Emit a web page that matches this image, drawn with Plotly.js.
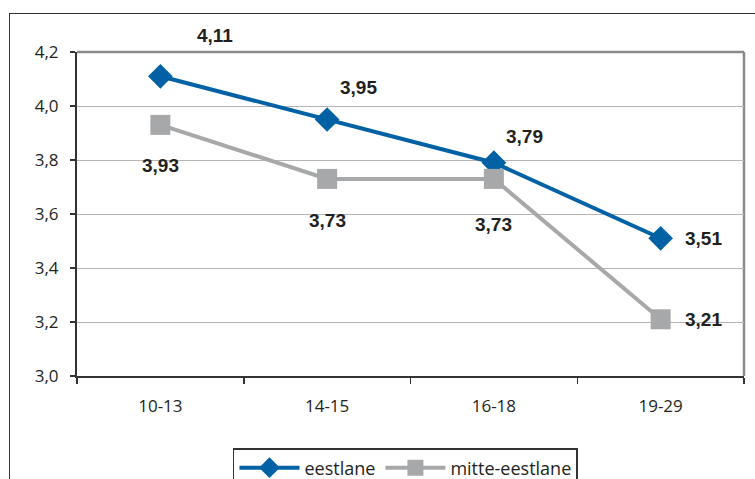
<!DOCTYPE html>
<html>
<head>
<meta charset="utf-8">
<script src="https://cdn.plot.ly/plotly-3.0.1.min.js"></script>
<style>
  html, body { margin: 0; padding: 0; background: #fff; overflow: hidden; }
  #wrap { position: relative; width: 755px; height: 479px; overflow: hidden; }
  #frame { position: absolute; left: 9px; top: 13px; width: 900px; height: 600px; border: 1.5px solid #333; box-sizing: border-box; }
  #chart { position: absolute; left: 0; top: 0; width: 755px; height: 479px; }
</style>
</head>
<body>
<div id="wrap">
  <div id="frame"></div>
  <div id="chart"></div>
</div>
<script>
const categories = ["10-13", "14-15", "16-18", "19-29"];
const seriesNames = ["eestlane", "mitte-eestlane"];
const eestlane = [4.11, 3.95, 3.79, 3.51];
const mitteEestlane = [3.93, 3.73, 3.73, 3.21];
const yTickVals = [3.0, 3.2, 3.4, 3.6, 3.8, 4.0, 4.2];

const fmt = v => v.toFixed(2).replace(".", ",");
const fmt1 = v => v.toFixed(1).replace(".", ",");

const blue = "#0062A4";
const gray = "#A7A8AA";

const traces = [
  {
    x: categories, y: eestlane, name: seriesNames[0], type: "scatter", mode: "lines+markers",
    line: { color: blue, width: 4 },
    marker: { symbol: "diamond", size: 19, color: blue }
  },
  {
    x: categories, y: mitteEestlane, name: seriesNames[1], type: "scatter", mode: "lines+markers",
    line: { color: gray, width: 4 },
    marker: { symbol: "square", size: 20, color: gray }
  }
];

// label offsets (px) per point
const offA = [[55, 41], [31, 32], [31, 26], [43, 0]];
const offB = [[0, -41], [0, -42], [0, -46], [43, 0]];
const annFont = { family: "Liberation Sans, Arial, sans-serif", size: 19, color: "#231f20" };
const annotations = [];
categories.forEach((c, i) => {
  annotations.push({ x: c, y: eestlane[i], xref: "x", yref: "y", text: "<b>" + fmt(eestlane[i]) + "</b>",
    showarrow: false, xshift: offA[i][0], yshift: offA[i][1], font: annFont });
  annotations.push({ x: c, y: mitteEestlane[i], xref: "x", yref: "y", text: "<b>" + fmt(mitteEestlane[i]) + "</b>",
    showarrow: false, xshift: offB[i][0], yshift: offB[i][1], font: annFont });
});

const layout = {
  width: 755, height: 479,
  margin: { l: 77, r: 11, t: 52, b: 103, pad: 0, autoexpand: false },
  paper_bgcolor: "rgba(0,0,0,0)",
  plot_bgcolor: "rgba(0,0,0,0)",
  font: { family: "Open Sans, Noto Sans, sans-serif", size: 17, color: "#231f20" },
  showlegend: true,
  legend: {
    orientation: "h", xref: "container", yref: "container",
    x: 0.3086, y: 0.0647, xanchor: "left", yanchor: "top",
    bordercolor: "#333", borderwidth: 1.5, bgcolor: "#fff",
    itemwidth: 60, font: { size: 18, color: "#231f20" },
    tracegroupgap: 0
  },
  xaxis: {
    type: "category", range: [-0.5, 3.5], showgrid: false, zeroline: false, automargin: false,
    showline: true, linecolor: "#333", linewidth: 2,
    ticks: "outside", ticklen: 6, tickcolor: "#333", tickwidth: 1.5,
    tickson: "boundaries", ticklabelstandoff: 14, tickfont: { size: 17 }, fixedrange: true
  },
  yaxis: {
    range: [3.0, 4.2], tickvals: yTickVals, ticktext: yTickVals.map(fmt1), automargin: false,
    showgrid: true, gridcolor: "#b5b5b5", gridwidth: 1, zeroline: false,
    showline: true, linecolor: "#333", linewidth: 2,
    ticks: "outside", ticklen: 5, tickcolor: "#333", tickwidth: 1.5,
    ticklabelstandoff: 8, tickfont: { size: 17 }, fixedrange: true
  },
  shapes: [
    { type: "line", xref: "paper", yref: "paper", x0: 0, x1: 1, y0: 1, y1: 1, line: { color: "#8a8a8a", width: 2.5 }, layer: "below" },
    { type: "line", xref: "paper", yref: "paper", x0: 1, x1: 1, y0: 0, y1: 1, line: { color: "#8a8a8a", width: 2.5 }, layer: "below" }
  ],
  annotations: annotations
};

Plotly.newPlot("chart", traces, layout, { displayModeBar: false, staticPlot: true });
</script>
</body>
</html>
